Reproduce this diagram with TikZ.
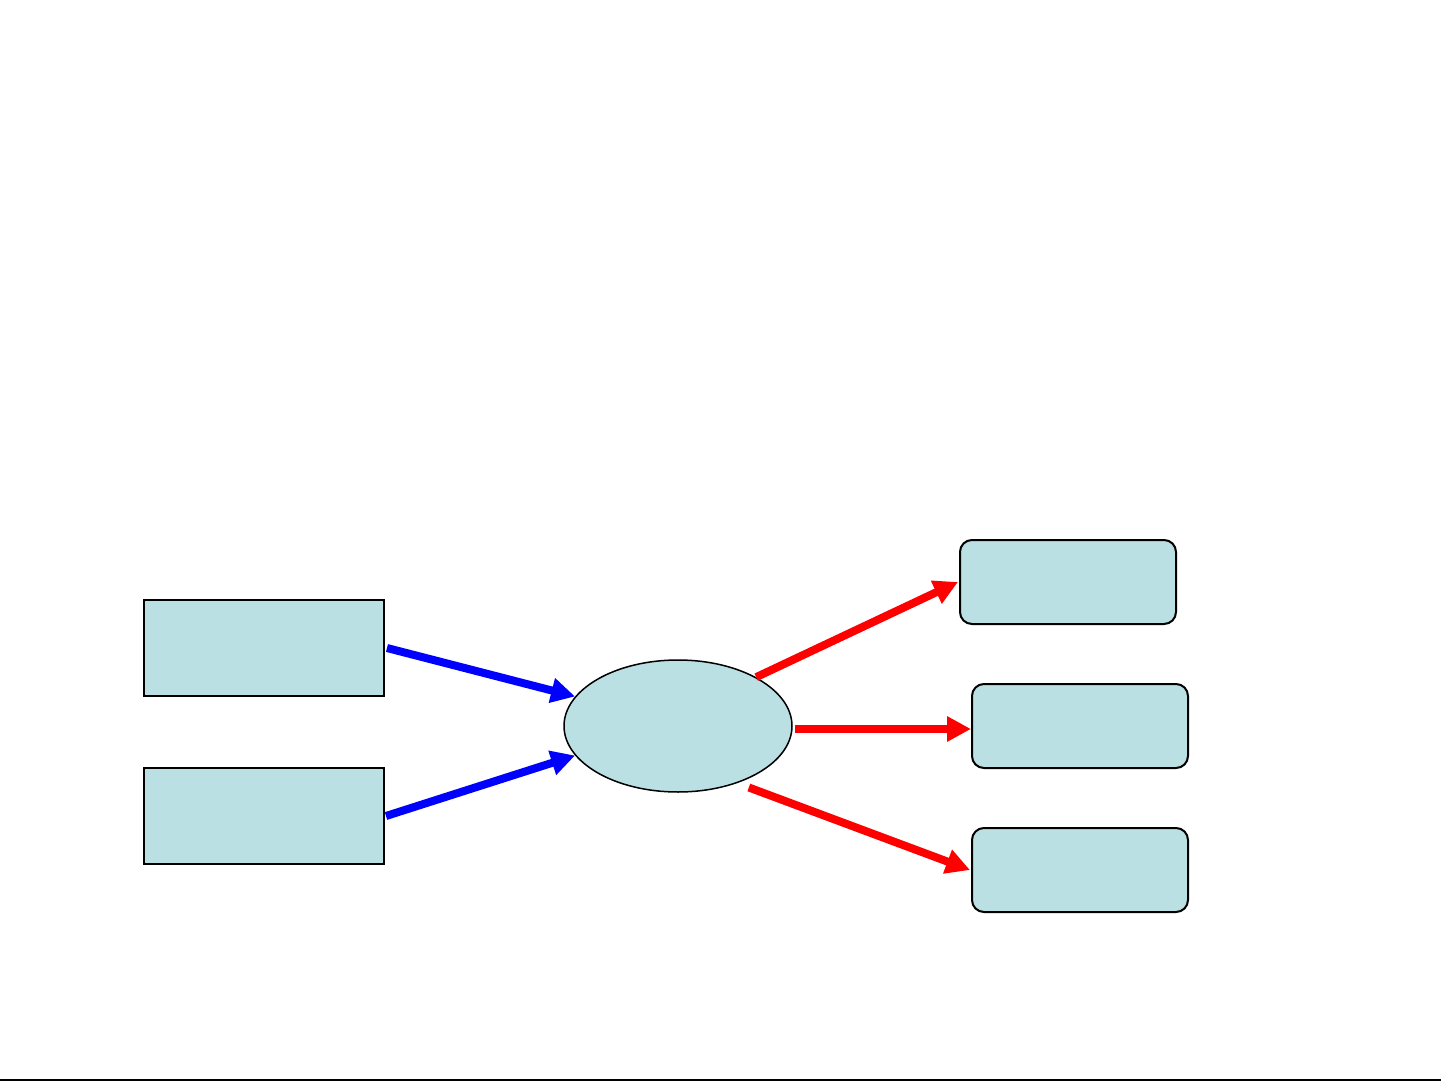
\documentclass[tikz,border=0pt]{standalone}
\usetikzlibrary{arrows.meta,shapes.geometric}
\definecolor{boxfill}{RGB}{187,224,227}
\definecolor{arrblue}{RGB}{0,0,255}
\definecolor{arrred}{RGB}{255,0,0}
\tikzset{
  sqbox/.style={draw=black,line width=2pt,fill=boxfill,minimum width=240pt,minimum height=96pt,inner sep=0pt},
  rbox/.style={draw=black,line width=2pt,fill=boxfill,rounded corners=12pt,minimum width=216pt,minimum height=84pt,inner sep=0pt},
  hub/.style={ellipse,draw=black,line width=1.5pt,fill=boxfill,minimum width=228pt,minimum height=132pt,inner sep=0pt},
  inarrow/.style={draw=arrblue,line width=8pt,-{Triangle[length=24pt,width=24pt]}},
  outarrow/.style={draw=arrred,line width=8pt,-{Triangle[length=24pt,width=24pt]}}
}
\begin{document}
\begin{tikzpicture}[x=1pt,y=-1pt]
\useasboundingbox (0,0) rectangle (1441,1081);
\fill[white] (0,0) rectangle (1441,1081);
\draw[line width=2pt] (0,1080) -- (1441,1080);
\node[sqbox] (b1) at (264,648) {};
\node[sqbox] (b2) at (264,816) {};
\node[hub] (e) at (678,726) {};
\node[rbox] (r1) at (1068,582) {};
\node[rbox] (r2) at (1080,726) {};
\node[rbox] (r3) at (1080,870) {};
\draw[inarrow] ([xshift=2pt]b1.east) -- (e.164);
\draw[inarrow] ([xshift=1pt]b2.east) -- (e.196);
\draw[outarrow] (e.32) -- ([xshift=-1pt]r1.west);
\draw[outarrow] ([xshift=2pt,yshift=-3pt]e.east) -- ([yshift=-3pt]r2.west);
\draw[outarrow] ([xshift=7pt,yshift=-6pt]e.-41) -- ([xshift=-1pt]r3.west);
\end{tikzpicture}
\end{document}
